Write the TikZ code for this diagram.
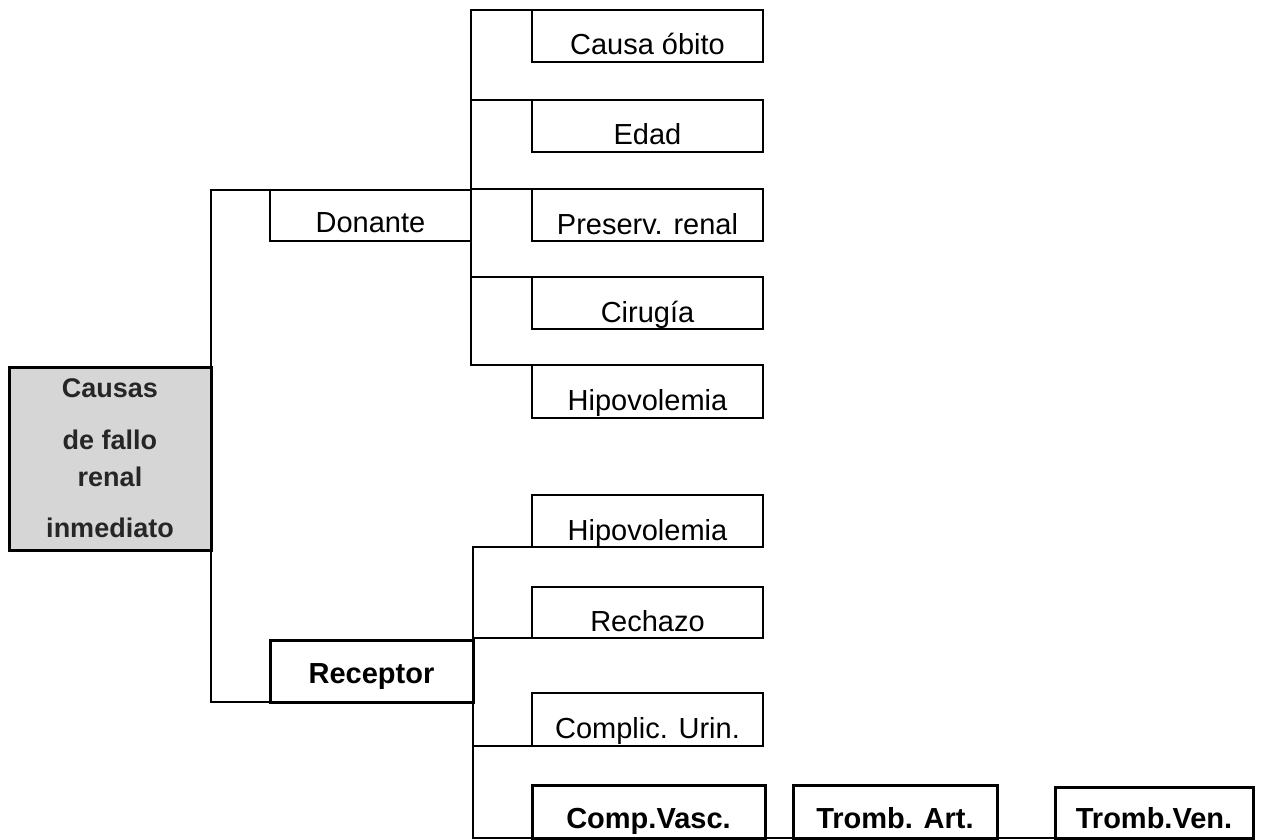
\documentclass[tikz,border=0pt]{standalone}
\usepackage{fontspec}
\setmainfont{Liberation Sans}
\definecolor{boxgray}{RGB}{214,214,214}
\begin{document}
\begin{tikzpicture}[x=1pt,y=-1pt,
  every node/.style={outer sep=0pt},
  thinline/.style={line width=1.5pt,black},
  leaf/.style={draw,thinline,anchor=north west,inner sep=0pt,
    text height=45pt,text depth=7pt,minimum width=231pt,
    font=\fontsize{29}{32}\selectfont},
  boldleaf/.style={leaf,line width=3pt,font=\fontsize{29}{32}\selectfont\bfseries},
  conn/.style={thinline}]
\useasboundingbox (0,0) rectangle (1263,840);
% root
\node[draw,line width=3pt,fill=boxgray,anchor=north west,inner sep=0pt,
  minimum width=202pt,minimum height=183pt,align=center,
  font=\fontsize{27}{38}\selectfont\bfseries,text=black!85]
  (root) at (9,367) {Causas\\[14pt]de fallo\\[-1pt]renal\\[13pt]inmediato};
% level 1
\node[leaf,minimum width=201pt,text height=42pt,text depth=9pt] (don) at (270,190) {Donante};
\node[boldleaf,minimum width=203pt,text height=43pt,text depth=19pt] (rec) at (270,640) {Receptor};
% donor children
\node[leaf] (d1) at (532,10) {Causa óbito};
\node[leaf] (d2) at (532,100) {Edad};
\node[leaf] (d3) at (532,189) {Preserv. renal};
\node[leaf] (d4) at (532,277) {Cirugía};
\node[leaf,text depth=8pt] (d5) at (532,365) {Hipovolemia};
% recipient children
\node[leaf] (r1) at (532,495) {Hipovolemia};
\node[leaf,text height=44pt] (r2) at (532,587) {Rechazo};
\node[leaf,text height=45pt,text depth=8pt] (r3) at (532,693) {Complic. Urin.};
\node[boldleaf,minimum width=233pt,text height=43pt,text depth=10pt] (r4) at (532,785) {Comp.Vasc.};
\node[boldleaf,minimum width=204pt,text height=43pt,text depth=10pt] (ta) at (793,785) {Tromb. Art.};
\node[boldleaf,minimum width=198pt,text height=41pt,text depth=10pt] (tv) at (1055,787) {Tromb.Ven.};
% connectors
\draw[conn] (root.north east) |- (don.north west);
\draw[conn] (root.south east) |- (rec.south west);
\foreach \c in {d1,d2,d3,d4,d5}{\draw[conn] (don.east) |- (\c.north west);}
\foreach \c in {r1,r2,r3,r4}{\draw[conn] (rec.east) |- (\c.south west);}
\draw[conn] (r4.south east) -- (ta.south west);
\draw[conn] (ta.south east) -- (tv.south west);
\end{tikzpicture}
\end{document}
